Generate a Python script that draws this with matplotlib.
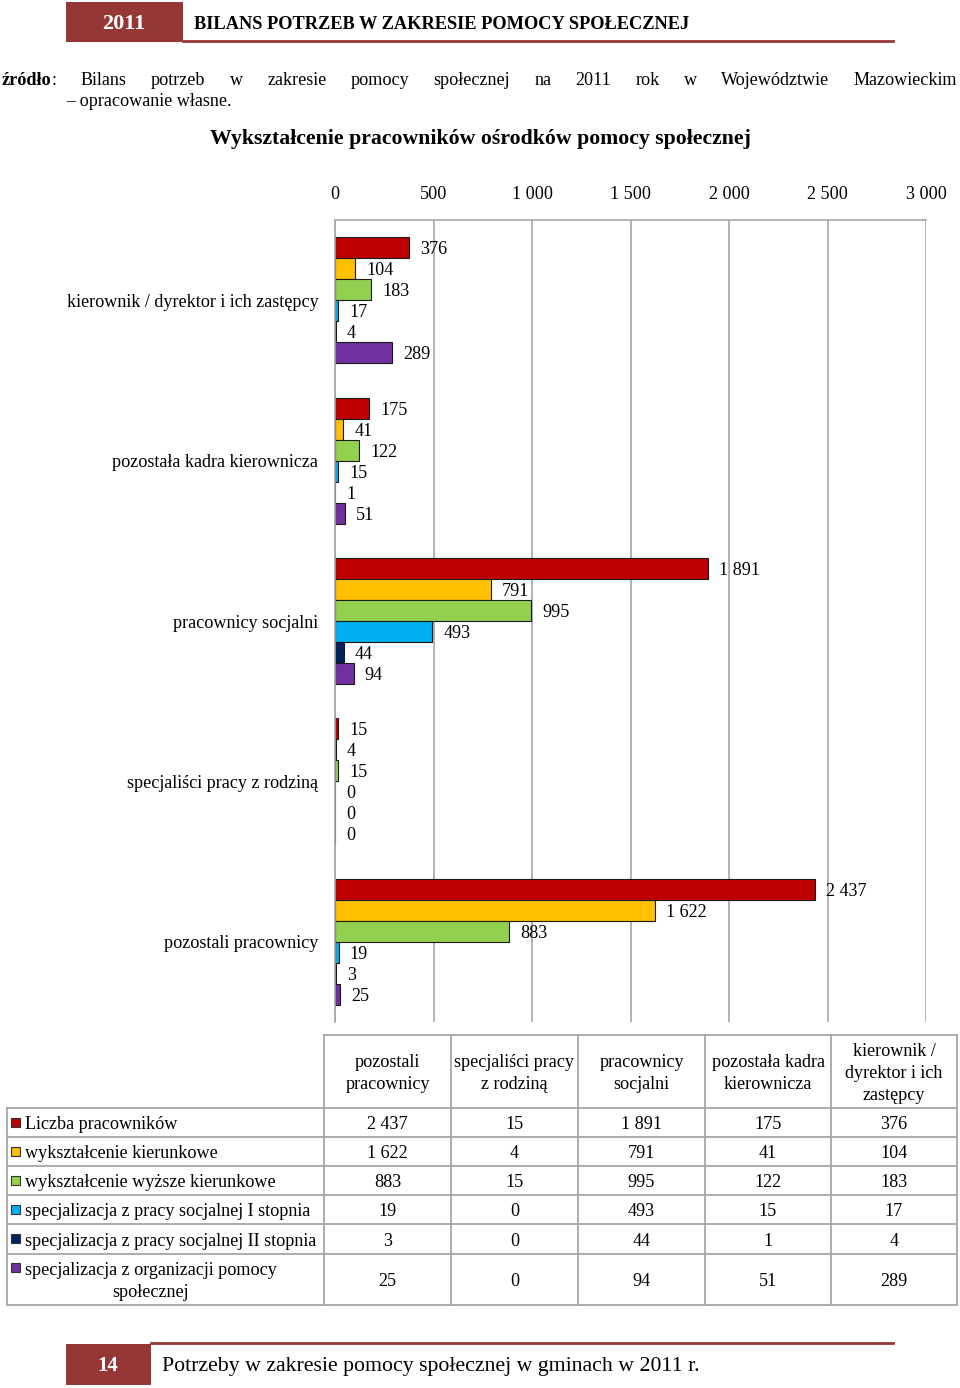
import numpy as np
import matplotlib
matplotlib.use("Agg")
import matplotlib.pyplot as plt
from matplotlib.patches import Rectangle

plt.rcParams["font.family"] = ["Liberation Serif", "DejaVu Serif"]

# ---- data (table column order) ----
CATEGORIES = ["pozostali\npracownicy", "specjaliści pracy\nz rodziną", "pracownicy\nsocjalni",
              "pozostała kadra\nkierownicza", "kierownik /\ndyrektor i ich\nzastępcy"]
CAT_AXIS = ["pozostali pracownicy", "specjaliści pracy z rodziną", "pracownicy socjalni",
            "pozostała kadra kierownicza", "kierownik / dyrektor i ich zastępcy"]
SERIES = ["Liczba pracowników", "wykształcenie kierunkowe", "wykształcenie wyższe kierunkowe",
          "specjalizacja z pracy socjalnej I stopnia", "specjalizacja z pracy socjalnej II stopnia",
          "specjalizacja z organizacji pomocy\nspołecznej"]
liczba = [2437, 15, 1891, 175, 376]
kierunkowe = [1622, 4, 791, 41, 104]
wyzsze = [883, 15, 995, 122, 183]
spec_1 = [19, 0, 493, 15, 17]
spec_2 = [3, 0, 44, 1, 4]
spec_org = [25, 0, 94, 51, 289]
VALUES = [liczba, kierunkowe, wyzsze, spec_1, spec_2, spec_org]
COLORS = ["#C00000", "#FFC000", "#92D050", "#00B0F0", "#002060", "#7030A0"]
XTICKS = [0, 500, 1000, 1500, 2000, 2500, 3000]

W, H = 960, 1388
DARK_RED = "#953735"
GRID = "#A6A6A6"
FS = 13.1
DY = 2  # nudge for centred text


def fmt(v):
    return f"{v:,}".replace(",", " ")


fig = plt.figure(figsize=(W / 100, H / 100), dpi=100)

# page overlay in pixel coordinates
page = fig.add_axes([0, 0, 1, 1])
page.set_xlim(0, W)
page.set_ylim(H, 0)
page.axis("off")

# header
page.add_patch(Rectangle((66, 2), 117, 40, facecolor=DARK_RED, edgecolor="none"))
page.text(124, 22 + DY, "2011", color="white", fontsize=16, fontweight="bold", ha="center", va="center")
page.text(194, 22 + DY, "BILANS POTRZEB W ZAKRESIE POMOCY SPOŁECZNEJ", fontsize=13.2,
          fontweight="bold", ha="left", va="center")
page.plot([183, 893], [41, 41], color=DARK_RED, lw=2)

# source line, justified
renderer = fig.canvas.get_renderer()
src = page.text(2, 78 + DY, "źródło", fontsize=FS, fontweight="bold", ha="left", va="center")
sw = src.get_window_extent(renderer).width
page.text(2 + sw, 78 + DY, ":", fontsize=FS, ha="left", va="center")
words = "Bilans potrzeb w zakresie pomocy społecznej na 2011 rok w Województwie Mazowieckim".split()
tw = []
for w in words:
    t = page.text(0, 78, w, fontsize=FS, ha="left", va="center")
    tw.append(t.get_window_extent(renderer).width)
    t.remove()
x0, x1 = 81, 957
gap = (x1 - x0 - sum(tw)) / (len(words) - 1)
x = x0
for w, wd in zip(words, tw):
    page.text(x, 78 + DY, w, fontsize=FS, ha="left", va="center")
    x += wd + gap
page.text(66, 99 + DY, "– opracowanie własne.", fontsize=FS, ha="left", va="center")

# chart title
page.text(480, 137 + DY, "Wykształcenie pracowników ośrodków pomocy społecznej", fontsize=15.7,
          fontweight="bold", ha="center", va="center")

# ---- bar chart ----
ax = fig.add_axes([335 / W, (H - 1022) / H, 591 / W, 802 / H])
n_cat = len(CAT_AXIS)
order = list(range(n_cat))[::-1]  # kierownik on top
bh = 21 / (802 / n_cat)
ypos = np.arange(n_cat)
for j, (vals, col) in enumerate(zip(VALUES, COLORS)):
    v = [vals[i] for i in order]
    yy = ypos + (j - 2.5) * bh
    ax.barh(yy, v, height=bh, color=col, edgecolor="#1a1a1a", linewidth=0.8)
    for yv, val in zip(yy, v):
        ax.annotate(fmt(val), (val, yv), xytext=(8, -1.5), textcoords="offset points",
                    va="center", ha="left", fontsize=FS)
ax.set_ylim(n_cat - 0.5, -0.5)
ax.set_xlim(0, 3000)
ax.set_yticks(ypos)
ax.set_yticklabels([CAT_AXIS[i] for i in order], fontsize=FS)
ax.set_xticks(XTICKS)
ax.set_xticklabels([fmt(t) for t in XTICKS], fontsize=FS)
ax.xaxis.tick_top()
ax.tick_params(axis="x", length=0, pad=12)
ax.tick_params(axis="y", length=0, pad=12)
ax.grid(axis="x", color=GRID, lw=1.2)
ax.set_axisbelow(True)
for s in ["right", "bottom"]:
    ax.spines[s].set_visible(False)
for s in ["top", "left"]:
    ax.spines[s].set_color(GRID)
    ax.spines[s].set_linewidth(1.2)

# ---- data table ----
xs = [7, 324, 451, 578, 705, 831, 957]
ys = [1035, 1108, 1137, 1166, 1195, 1224, 1254, 1305]
lw = 1.3
page.plot([xs[1], xs[-1]], [ys[0], ys[0]], color=GRID, lw=lw)
for y in ys[1:]:
    page.plot([xs[0], xs[-1]], [y, y], color=GRID, lw=lw)
page.plot([xs[0], xs[0]], [ys[1], ys[-1]], color=GRID, lw=lw)
for x in xs[1:]:
    page.plot([x, x], [ys[0], ys[-1]], color=GRID, lw=lw)

for c, cat in enumerate(CATEGORIES):
    page.text((xs[c + 1] + xs[c + 2]) / 2, (ys[0] + ys[1]) / 2 + DY, cat, fontsize=FS,
              ha="center", va="center", multialignment="center", linespacing=1.4)

for r, (name, vals, col) in enumerate(zip(SERIES, VALUES, COLORS)):
    yc = (ys[r + 1] + ys[r + 2]) / 2 + DY
    key_y = ys[r + 1] + 14 if "\n" in name else yc - 2
    page.add_patch(Rectangle((11, key_y - 5), 9, 9, facecolor=col, edgecolor="#333333", lw=0.8))
    page.text(25, yc, name, fontsize=FS, ha="left", va="center", multialignment="center",
              linespacing=1.4)
    for c, v in enumerate(vals):
        page.text((xs[c + 1] + xs[c + 2]) / 2, yc, fmt(v), fontsize=FS, ha="center", va="center")

# ---- footer ----
page.add_patch(Rectangle((66, 1344), 85, 41, facecolor=DARK_RED, edgecolor="none"))
page.text(108, 1364 + DY, "14", color="white", fontsize=15, fontweight="bold", ha="center", va="center")
page.plot([151, 893], [1343, 1343], color=DARK_RED, lw=2)
page.text(162, 1364 + DY, "Potrzeby w zakresie pomocy społecznej w gminach w 2011 r.", fontsize=15.7,
          ha="left", va="center")

fig.savefig("out.png", dpi=100)
